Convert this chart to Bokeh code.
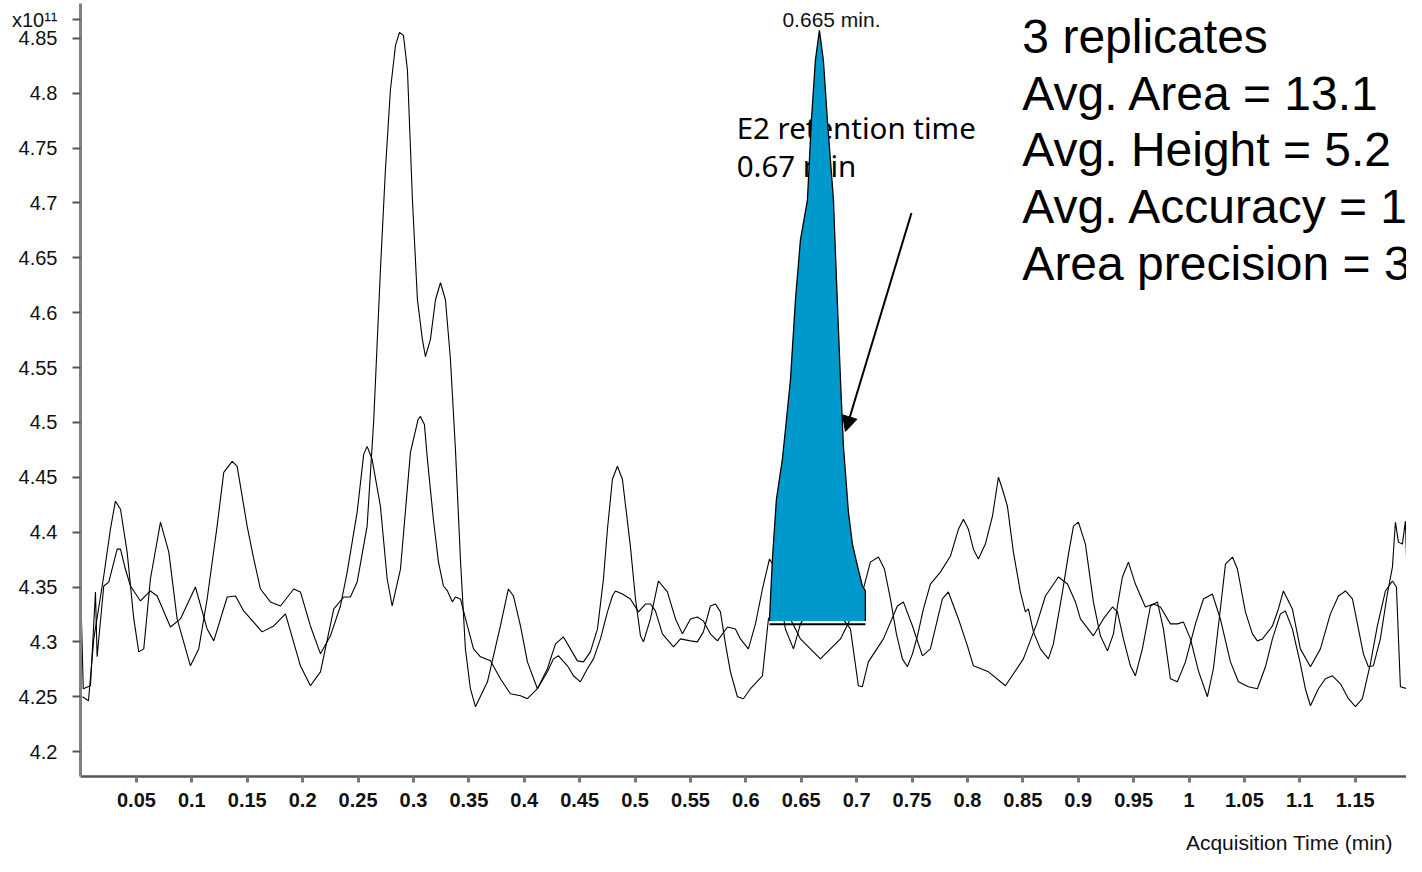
from bokeh.plotting import figure
from bokeh.models import Range1d, FixedTicker, NumeralTickFormatter, Label, Arrow, NormalHead, LinearAxis
from bokeh.core.properties import value
from bokeh.embed import file_html
from bokeh.resources import INLINE

# ---------------- data ----------------
time_a = [0.0, 0.002, 0.0085, 0.013, 0.0145, 0.0205, 0.025, 0.0326, 0.0356, 0.040, 0.0446, 0.0536, 0.0626,
          0.0687, 0.0807, 0.0897, 0.1032, 0.1138, 0.1198, 0.1319, 0.1394, 0.1468, 0.1634, 0.1739, 0.1845,
          0.198, 0.207, 0.2161, 0.2281, 0.2371, 0.2431, 0.2492, 0.2582, 0.2642, 0.2702, 0.2747, 0.2792,
          0.2838, 0.2874, 0.291, 0.2946, 0.2991, 0.3036, 0.3081, 0.3108, 0.3153, 0.3199, 0.3244, 0.3289,
          0.3334, 0.3379, 0.3424, 0.3469, 0.3514, 0.356, 0.3668, 0.3785, 0.3857, 0.3903, 0.3966, 0.4029,
          0.4119, 0.4209, 0.4282, 0.4354, 0.4417, 0.448, 0.4534, 0.4597, 0.4661, 0.4715, 0.4751, 0.4796,
          0.4841, 0.4886, 0.4958, 0.5004, 0.5049, 0.5076, 0.5139, 0.5211, 0.5292, 0.5365, 0.5428, 0.55,
          0.5563, 0.5617, 0.568, 0.5744, 0.5834, 0.5906, 0.5951, 0.6023, 0.6087, 0.615, 0.6213, 0.6267,
          0.6357, 0.643, 0.6493, 0.6628, 0.6809, 0.6944, 0.7016, 0.7052, 0.7106, 0.7242, 0.7368, 0.7422,
          0.7504, 0.7594, 0.7666, 0.7774, 0.7828, 0.7919, 0.8, 0.8054, 0.819, 0.8343, 0.8505, 0.8632,
          0.8704, 0.8821, 0.8903, 0.8975, 0.902, 0.9137, 0.9227, 0.9309, 0.9354, 0.9408, 0.9471, 0.9516,
          0.9579, 0.9652, 0.9715, 0.9769, 0.9832, 0.9895, 0.9968, 1.0058, 1.013, 1.0211, 1.0283, 1.0374,
          1.0446, 1.0536, 1.0617, 1.069, 1.0753, 1.0825, 1.087, 1.0933, 1.1005, 1.105, 1.1096, 1.1168,
          1.1231, 1.1294, 1.1367, 1.1439, 1.1502, 1.1565, 1.1637, 1.17, 1.1773, 1.1836, 1.1872, 1.1908,
          1.1971, 1.2016]
signal_a = [4.3345, 4.2573, 4.26, 4.3455, 4.2864, 4.3509, 4.3545, 4.3845, 4.3845, 4.3664, 4.3509, 4.3373,
            4.3464, 4.3418, 4.3136, 4.3209, 4.35, 4.3118, 4.3009, 4.3409, 4.3418, 4.3282, 4.3091, 4.3145,
            4.3255, 4.2782, 4.26, 4.2727, 4.33, 4.3409, 4.3409, 4.3545, 4.4055, 4.5027, 4.6391, 4.73,
            4.8027, 4.8436, 4.8555, 4.8527, 4.8209, 4.7027, 4.6118, 4.5755, 4.56, 4.5755, 4.6118, 4.6273,
            4.6118, 4.5573, 4.4755, 4.3755, 4.2936, 4.2573, 4.2409, 4.2636, 4.3145, 4.3482, 4.3418, 4.3145,
            4.2818, 4.2573, 4.2755, 4.2982, 4.3045, 4.2936, 4.2827, 4.2818, 4.2909, 4.3118, 4.3573, 4.4027,
            4.4482, 4.46, 4.4482, 4.3873, 4.3391, 4.3055, 4.3, 4.3209, 4.3555, 4.3455, 4.3209, 4.3073,
            4.3209, 4.3227, 4.3191, 4.3073, 4.3009, 4.3136, 4.3118, 4.3027, 4.2936, 4.3164, 4.3482, 4.3755,
            4.3664, 4.3118, 4.2936, 4.3164, 4.3391, 4.33, 4.3118, 4.26, 4.2591, 4.2818, 4.3027, 4.3327,
            4.3364, 4.3145, 4.2873, 4.2936, 4.3391, 4.3455, 4.3209, 4.2964, 4.2782, 4.2727, 4.26, 4.2845,
            4.3182, 4.3418, 4.3591, 4.3527, 4.3364, 4.3209, 4.3055, 4.3209, 4.3318, 4.3273, 4.3027, 4.2782,
            4.2691, 4.2936, 4.3327, 4.3364, 4.3118, 4.2664, 4.2636, 4.2818, 4.3164, 4.3391, 4.3436, 4.3209,
            4.2818, 4.2636, 4.2591, 4.2573, 4.2773, 4.3027, 4.3255, 4.3282, 4.3118, 4.28, 4.2573, 4.2418,
            4.2573, 4.2664, 4.2691, 4.2618, 4.2482, 4.2409, 4.2482, 4.28, 4.3145, 4.3464, 4.3555, 4.35,
            4.2591, 4.2573, 4.2573]

time_b = [0.0013, 0.0067, 0.0115, 0.0205, 0.0265, 0.031, 0.0356, 0.0416, 0.0476, 0.0521, 0.0566, 0.0626,
          0.0717, 0.0792, 0.0867, 0.0987, 0.1062, 0.1138, 0.1228, 0.1288, 0.1364, 0.1409, 0.1499, 0.1559,
          0.1619, 0.1709, 0.18, 0.192, 0.198, 0.207, 0.2161, 0.2251, 0.2341, 0.2402, 0.2492, 0.2551,
          0.2582, 0.2627, 0.2702, 0.2763, 0.2808, 0.2883, 0.2973, 0.3042, 0.3063, 0.3099, 0.3126, 0.318,
          0.3226, 0.3271, 0.3307, 0.3352, 0.3379, 0.3424, 0.3487, 0.3542, 0.3605, 0.3695, 0.3785, 0.3875,
          0.3966, 0.4029, 0.4119, 0.4209, 0.4264, 0.4309, 0.439, 0.4444, 0.4507, 0.457, 0.4625, 0.4688,
          0.4751, 0.4796, 0.4823, 0.4886, 0.4958, 0.5031, 0.5094, 0.5139, 0.5184, 0.5247, 0.5347, 0.541,
          0.55, 0.5563, 0.5617, 0.568, 0.5726, 0.5771, 0.5816, 0.5861, 0.5924, 0.5978, 0.6042, 0.615,
          0.6204, 0.6312, 0.6493, 0.6673, 0.6854, 0.6989, 0.7061, 0.7124, 0.7197, 0.7251, 0.7305, 0.7359,
          0.7413, 0.7458, 0.7504, 0.7549, 0.7603, 0.7666, 0.7756, 0.7847, 0.7919, 0.7964, 0.8009, 0.8054,
          0.8099, 0.8162, 0.8226, 0.828, 0.8316, 0.8361, 0.8415, 0.8478, 0.8523, 0.855, 0.8596, 0.8659,
          0.8731, 0.8776, 0.8858, 0.8912, 0.8957, 0.9002, 0.9065, 0.9137, 0.92, 0.9264, 0.9318, 0.9354,
          0.9399, 0.9453, 0.9516, 0.9606, 0.9679, 0.9742, 0.9832, 0.9895, 0.9949, 1.0013, 1.0085, 1.0166,
          1.022, 1.0283, 1.0329, 1.0392, 1.0437, 1.0509, 1.0572, 1.0617, 1.0663, 1.0753, 1.0807, 1.0852,
          1.0933, 1.1005, 1.1096, 1.1186, 1.1276, 1.1349, 1.1412, 1.1475, 1.1529, 1.1574, 1.1619, 1.1664,
          1.1727, 1.179, 1.1836, 1.1863, 1.189, 1.1926, 1.1953, 1.198, 1.1998, 1.2025]
signal_b = [4.25, 4.2464, 4.3027, 4.36, 4.4027, 4.4282, 4.4209, 4.3818, 4.3209, 4.2909, 4.2936, 4.3573,
            4.4091, 4.3818, 4.3209, 4.2782, 4.2936, 4.3391, 4.4055, 4.4545, 4.4645, 4.46, 4.4055, 4.3755,
            4.3482, 4.3364, 4.3327, 4.3482, 4.3455, 4.3145, 4.2891, 4.3055, 4.3327, 4.3636, 4.4182, 4.4709,
            4.4782, 4.4664, 4.4236, 4.3573, 4.3327, 4.3664, 4.4727, 4.5027, 4.5055, 4.4982, 4.4664, 4.4118,
            4.3727, 4.3509, 4.3464, 4.3364, 4.3409, 4.3391, 4.3145, 4.2936, 4.2864, 4.2827, 4.2664, 4.2527,
            4.2509, 4.2482, 4.2573, 4.2727, 4.2845, 4.2873, 4.2782, 4.2691, 4.2636, 4.2755, 4.2845, 4.3027,
            4.3273, 4.3418, 4.3464, 4.3436, 4.3391, 4.3273, 4.3345, 4.3345, 4.3282, 4.3073, 4.2955, 4.3027,
            4.3009, 4.3, 4.3091, 4.3327, 4.3345, 4.3273, 4.2982, 4.2727, 4.25, 4.2482, 4.2573, 4.2691,
            4.3209, 4.3391, 4.3027, 4.2845, 4.3027, 4.33, 4.3482, 4.3727, 4.3773, 4.3664, 4.3391, 4.3073,
            4.2845, 4.2773, 4.2891, 4.3055, 4.33, 4.3527, 4.3636, 4.3782, 4.4027, 4.4118, 4.4027, 4.3845,
            4.3755, 4.3891, 4.4145, 4.45, 4.4391, 4.4236, 4.3818, 4.3455, 4.3273, 4.33, 4.3091, 4.2936,
            4.2845, 4.2982, 4.3455, 4.38, 4.4055, 4.4091, 4.3891, 4.3364, 4.3055, 4.2918, 4.3073, 4.3327,
            4.3591, 4.3727, 4.3527, 4.3318, 4.3345, 4.3318, 4.3164, 4.3164, 4.3182, 4.3027, 4.2736, 4.25,
            4.2755, 4.33, 4.3709, 4.3773, 4.3664, 4.3273, 4.3073, 4.3009, 4.3027, 4.3145, 4.33, 4.3464,
            4.33, 4.2936, 4.2773, 4.2936, 4.3255, 4.3418, 4.3464, 4.3391, 4.3118, 4.2891, 4.2773, 4.2782,
            4.3027, 4.3436, 4.3682, 4.4091, 4.3909, 4.3891, 4.41, 4.3209, 4.2455, 4.2464]

# integrated E2 peak (filled)
peak_time = [0.6213, 0.624, 0.6276, 0.633, 0.6367, 0.6403, 0.6448, 0.6493, 0.6556, 0.6592, 0.6628, 0.6664,
             0.67, 0.6736, 0.6791, 0.6818, 0.6854, 0.6881, 0.6926, 0.6962, 0.7008, 0.7052, 0.7079, 0.7079]
peak_signal = [4.3191, 4.3755, 4.43, 4.4664, 4.5027, 4.5391, 4.6118, 4.6664, 4.7027, 4.7755, 4.83, 4.8573,
               4.83, 4.7755, 4.7027, 4.63, 4.5391, 4.4782, 4.4182, 4.3891, 4.3691, 4.3509, 4.3464, 4.3191]
peak_baseline = 4.316
peak_label = "0.665 min."

x_ticks = [0.05, 0.1, 0.15, 0.2, 0.25, 0.3, 0.35, 0.4, 0.45, 0.5, 0.55, 0.6, 0.65, 0.7, 0.75, 0.8,
           0.85, 0.9, 0.95, 1.0, 1.05, 1.1, 1.15]
y_ticks = [4.2, 4.25, 4.3, 4.35, 4.4, 4.45, 4.5, 4.55, 4.6, 4.65, 4.7, 4.75, 4.8, 4.85]
y_scale_tick = 4.867
y_scale_text = "x10\u00b9\u00b9"
x_title = "Acquisition Time (min)"
x_title_pos = 1.0906

stats_lines = ["3 replicates", "Avg. Area = 13.1", "Avg. Height = 5.2",
               "Avg. Accuracy = 10", "Area precision = 3."]
callout_lines = ["E2 retention time", "0.67 min"]

# ---------------- figure ----------------
p = figure(width=1406, height=856, output_backend="svg", toolbar_location=None,
           x_range=Range1d(-0.0005, 1.1963), y_range=Range1d(4.1773, 4.8818))
p.min_border_left = 80
p.min_border_right = 0
p.min_border_top = 3
p.min_border_bottom = 78
p.outline_line_color = None
p.grid.visible = False
p.background_fill_color = "white"
p.border_fill_color = "white"

# x axis
xa = p.xaxis[0]
xa.ticker = FixedTicker(ticks=x_ticks)
xa.formatter = NumeralTickFormatter(format="0.[00]")
xa.minor_tick_line_color = None
xa.axis_line_color = "#555555"
xa.axis_line_width = 2.5
xa.major_tick_line_color = "#777777"
xa.major_tick_line_width = 3
xa.major_tick_in = 0
xa.major_tick_out = 6
xa.major_label_standoff = 10
xa.major_label_text_font = "Liberation Sans"
xa.major_label_text_font_size = "20px"
xa.major_label_text_font_style = "bold"
xa.major_label_text_color = "#111111"

# axis title, right-aligned below the tick labels
xt = LinearAxis(ticker=FixedTicker(ticks=[x_title_pos]),
                major_label_overrides={x_title_pos: x_title})
xt.axis_line_color = None
xt.major_tick_line_color = None
xt.minor_tick_line_color = None
xt.major_tick_in = 0
xt.major_tick_out = 0
xt.major_label_standoff = 21
xt.major_label_text_font = "Liberation Sans"
xt.major_label_text_font_size = "21px"
xt.major_label_text_color = "#111111"
p.add_layout(xt, "below")

# y axis (with the x10^11 scale label at its top)
ya = p.yaxis[0]
ya.ticker = FixedTicker(ticks=y_ticks + [y_scale_tick])
ya.formatter = NumeralTickFormatter(format="0.[00]")
ya.major_label_overrides = {y_scale_tick: y_scale_text}
ya.minor_tick_line_color = None
ya.axis_line_color = "#808080"
ya.axis_line_width = 3
ya.major_tick_line_color = "#555555"
ya.major_tick_line_width = 2
ya.major_tick_in = 0
ya.major_tick_out = 8
ya.major_label_standoff = 15
ya.major_label_text_font = "Liberation Sans"
ya.major_label_text_font_size = "20px"
ya.major_label_text_color = "#111111"

# callout text (behind the peak)
callout_x = 0.5917
callout_y0 = 4.7691
callout_step = 0.0345
p.text(x=[callout_x, callout_x], y=[callout_y0, callout_y0 - callout_step], text=callout_lines,
       text_font=value("Noto Sans"), text_font_size="29.5px", text_color="black",
       text_baseline="alphabetic", text_align="left")

# traces
p.line(time_a, signal_a, line_color="black", line_width=1.1)
p.line(time_b, signal_b, line_color="black", line_width=1.1)

# filled E2 peak
p.patch(peak_time, peak_signal, fill_color="#0099cc", line_color=None)
p.line(peak_time, peak_signal, line_color="black", line_width=1.3)
p.line([peak_time[0], peak_time[-1]], [peak_baseline, peak_baseline], line_color="black", line_width=2)

# peak label
p.add_layout(Label(x=0.6773, y=4.8673, text=peak_label, text_font="Liberation Sans",
                   text_font_size="21px", text_align="center", text_baseline="alphabetic",
                   text_color="#111111"))

# arrow
p.add_layout(Arrow(end=NormalHead(size=15, fill_color="black", line_color="black"),
                   x_start=0.7495, y_start=4.6909, x_end=0.6899, y_end=4.4918,
                   line_color="black", line_width=2))

# stats block
stats_x = 0.8496
stats_y0 = 4.8519
stats_step = 0.0518
for i, t in enumerate(stats_lines):
    p.add_layout(Label(x=stats_x, y=stats_y0 - i * stats_step, text=t, text_font="Liberation Sans",
                       text_font_size="48px", text_align="left", text_baseline="alphabetic",
                       text_color="black"))

open("out.html", "w").write(file_html(p, INLINE))
